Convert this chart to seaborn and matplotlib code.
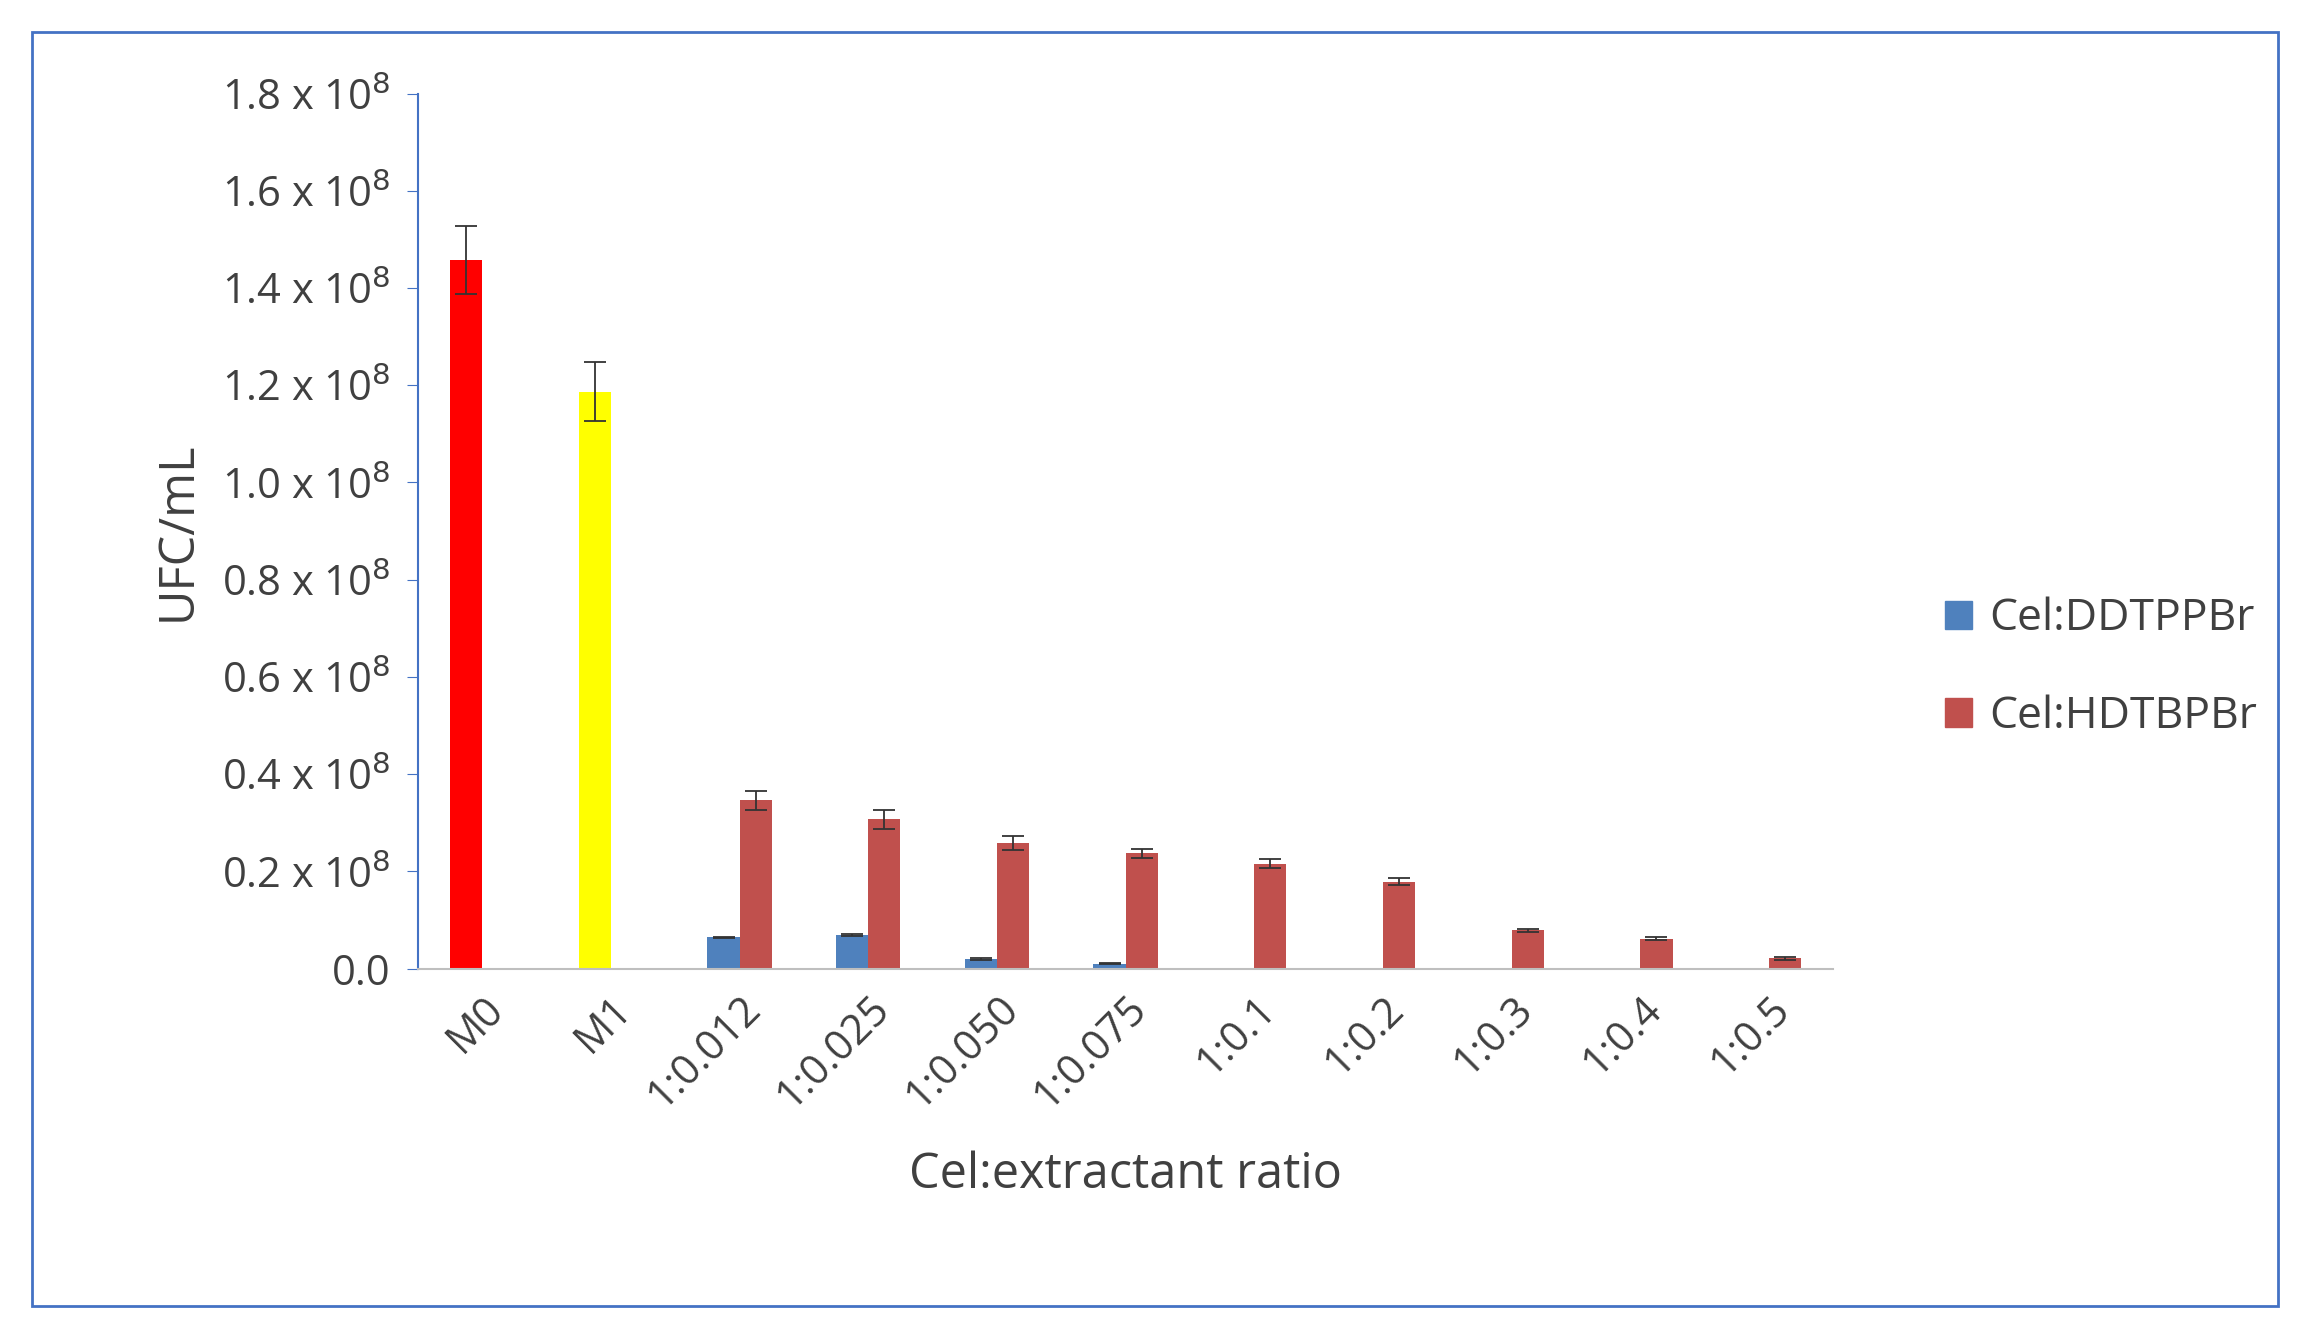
import matplotlib
matplotlib.use("Agg")
import matplotlib.pyplot as plt
import matplotlib.patches as mpatches
import numpy as np
import pandas as pd
import seaborn as sns

categories = ["M0", "M1", "1:0.012", "1:0.025", "1:0.050", "1:0.075",
              "1:0.1", "1:0.2", "1:0.3", "1:0.4", "1:0.5"]
# M0 and M1 controls are drawn in the first slot
ddtppbr = [1.457e8, 1.187e8, 0.064e8, 0.070e8, 0.020e8, 0.010e8, 0, 0, 0, 0, 0]
ddtppbr_err = [0.07e8, 0.06e8, 0.002e8, 0.002e8, 0.002e8, 0.001e8, 0, 0, 0, 0, 0]
hdtbpbr = [0, 0, 0.346e8, 0.307e8, 0.258e8, 0.237e8, 0.216e8, 0.179e8,
           0.079e8, 0.061e8, 0.021e8]
hdtbpbr_err = [0, 0, 0.02e8, 0.02e8, 0.015e8, 0.01e8, 0.01e8, 0.008e8,
               0.003e8, 0.003e8, 0.003e8]
yticks = np.arange(0, 1.81e8, 0.2e8)

df = pd.DataFrame({
    "ratio": categories * 2,
    "value": ddtppbr + hdtbpbr,
    "err": ddtppbr_err + hdtbpbr_err,
    "series": ["Cel:DDTPPBr"] * len(categories) + ["Cel:HDTBPBr"] * len(categories),
})

plt.rcParams["font.family"] = ["Open Sans", "DejaVu Sans"]
text_color = "#404040"
blue = "#4f81bd"
red = "#c0504d"

fig = plt.figure(figsize=(23.09, 13.36), dpi=100)
ax = fig.add_axes([0.181, 0.275, 0.613, 0.655])

sns.barplot(data=df, x="ratio", y="value", hue="series", order=categories,
            hue_order=["Cel:DDTPPBr", "Cel:HDTBPBr"],
            palette=[blue, red], width=0.5, saturation=1, ax=ax, legend=False)

n = len(categories)
patches = ax.patches[:2 * n]
for i, p in enumerate(patches):
    v = df["value"].iloc[i]
    e = df["err"].iloc[i]
    if i == 0:
        p.set_facecolor("#ff0000")
    elif i == 1:
        p.set_facecolor("#ffff00")
    if v > 0 and e > 0:
        cx = p.get_x() + p.get_width() / 2
        ax.errorbar(cx, v, yerr=e, color="#333333", capsize=8, lw=1.3,
                    capthick=1.3)

ax.set_ylim(0, 1.8e8)
ax.set_xlim(-0.5, n - 0.5)
ax.set_yticks(yticks)
ax.set_yticklabels(["0.0"] + [rf"{t/1e8:.1f} x 10$^{{8}}$" for t in yticks[1:]],
                   fontsize=30, color=text_color)
ax.set_xticks(range(n))
ax.set_xticklabels(categories, rotation=45, ha="right", rotation_mode="anchor",
                   fontsize=30, color=text_color)
ax.tick_params(axis="x", length=0, pad=14)
ax.tick_params(axis="y", length=8, color="#4472c4", pad=12)
ax.set_ylabel("UFC/mL", fontsize=35, color=text_color, labelpad=14)
ax.set_xlabel("Cel:extractant ratio", fontsize=35, color=text_color, labelpad=24)
for s in ["top", "right"]:
    ax.spines[s].set_visible(False)
ax.spines["left"].set_color("#4472c4")
ax.spines["bottom"].set_color("#bfbfbf")
ax.spines["left"].set_linewidth(1.5)
ax.spines["bottom"].set_linewidth(1.5)

handles = [mpatches.Patch(color=blue, label="Cel:DDTPPBr"),
           mpatches.Patch(color=red, label="Cel:HDTBPBr")]
leg = fig.legend(handles=handles, loc="center left",
                 bbox_to_anchor=(0.825, 0.5), frameon=False, fontsize=32,
                 handlelength=0.6, handleheight=0.6, labelspacing=1.2,
                 handletextpad=0.4)
for t in leg.get_texts():
    t.set_color(text_color)

frame = mpatches.Rectangle((22 / 1568, 1 - 885 / 905), 1525 / 1568, 863 / 905,
                           transform=fig.transFigure, fill=False,
                           edgecolor="#4472c4", lw=2)
fig.patches.append(frame)

fig.savefig("out.png", dpi=100)
